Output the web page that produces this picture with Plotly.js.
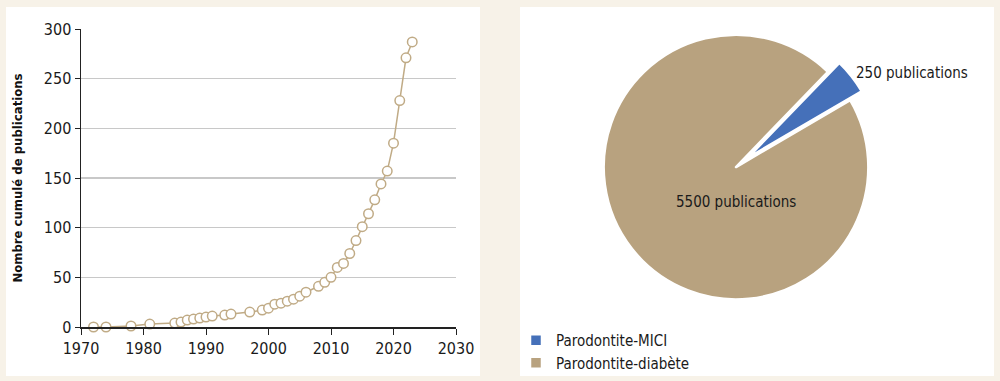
<!DOCTYPE html>
<html>
<head>
<meta charset="utf-8">
<script src="https://cdn.plot.ly/plotly-3.0.1.min.js"></script>
<style>
html,body{margin:0;padding:0;background:#f7f2e8;}
#chart{width:1000px;height:381px;}
.main-svg text{font-stretch:condensed !important;}
</style>
</head>
<body>
<div id="chart"></div>
<script>
// Left panel: cumulative number of publications per year
const years = [1972,1974,1978,1981,1985,1986,1987,1988,1989,1990,1991,1993,1994,1997,1999,2000,2001,2002,2003,2004,2005,2006,2008,2009,2010,2011,2012,2013,2014,2015,2016,2017,2018,2019,2020,2021,2022,2023];
const cumulative = [0,0,1,3,4,5,7,8,9,10,11,12,13,15,17,19,23,24,26,28,31,35,41,45,50,60,64,74,87,101,114,128,144,157,185,228,271,287];
const xTicks = [1970,1980,1990,2000,2010,2020,2030];
const yTicks = [0,50,100,150,200,250,300];
const yTitle = "Nombre cumulé de publications";

// Right panel: pie
const pieLabels = ["Parodontite-MICI","Parodontite-diabète"];
const pieValues = [250,5500];
const pieTexts = ["250 publications","5500 publications"];

const FONT = "'DejaVu Sans Condensed','DejaVu Sans',sans-serif";
const TAN_LINE = "#c0ab86";
const TAN = "#b8a27f";
const BLUE = "#4570b9";

const pieDomainX = [0.589, 0.883];
const pieDomainY = [0.176, 0.947];

const traces = [
  {
    type: "scatter",
    mode: "lines+markers",
    x: years,
    y: cumulative,
    line: {color: TAN_LINE, width: 1.5},
    marker: {symbol: "circle", size: 9.5, color: "#ffffff", line: {color: TAN_LINE, width: 1.5}},
    cliponaxis: false,
    showlegend: false,
    hoverinfo: "x+y"
  },
  {
    type: "pie",
    labels: pieLabels,
    values: pieValues,
    text: [pieTexts[0], ""],
    textinfo: "text",
    textposition: ["outside","none"],
    sort: false,
    direction: "clockwise",
    rotation: 44,
    pull: [0.11, 0],
    marker: {colors: [BLUE, TAN], line: {color: "#ffffff", width: 2.5}},
    outsidetextfont: {family: FONT, size: 15, color: "#1a1a1a"},
    domain: {x: pieDomainX, y: pieDomainY},
    showlegend: true,
    hoverinfo: "label+value"
  }
];

const layout = {
  width: 1000,
  height: 381,
  margin: {l: 0, r: 0, t: 0, b: 0},
  paper_bgcolor: "#f7f2e8",
  plot_bgcolor: "rgba(0,0,0,0)",
  font: {family: FONT, size: 15, color: "#1a1a1a"},
  shapes: [
    {type: "rect", xref: "paper", yref: "paper", x0: 0.006, x1: 0.480, y0: 1 - 376/381, y1: 1 - 7/381,
     fillcolor: "#ffffff", line: {width: 0}, layer: "below"},
    {type: "rect", xref: "paper", yref: "paper", x0: 0.520, x1: 0.994, y0: 1 - 376/381, y1: 1 - 7/381,
     fillcolor: "#ffffff", line: {width: 0}, layer: "below"}
  ],
  annotations: [
    {xref: "paper", yref: "paper",
     x: (pieDomainX[0] + pieDomainX[1]) / 2, y: (pieDomainY[0] + pieDomainY[1]) / 2 - 0.092,
     text: pieTexts[1], showarrow: false, xanchor: "center", yanchor: "middle",
     font: {family: FONT, size: 15, color: "#1a1a1a"}}
  ],
  xaxis: {
    domain: [0.081, 0.456],
    range: [1970, 2030],
    tickvals: xTicks,
    ticktext: xTicks.map(String),
    ticks: "outside",
    ticklen: 6,
    tickcolor: "#222222",
    showline: true,
    linecolor: "#222222",
    linewidth: 1.5,
    showgrid: false,
    zeroline: false,
    tickfont: {family: FONT, size: 16, color: "#1a1a1a"}
  },
  yaxis: {
    domain: [1 - 327/381, 1 - 29/381],
    range: [0, 300],
    tickvals: yTicks,
    ticktext: yTicks.map(String),
    ticks: "outside",
    ticklen: 5,
    tickcolor: "#222222",
    showline: true,
    linecolor: "#222222",
    linewidth: 1.5,
    showgrid: true,
    gridcolor: "#c8c8c8",
    gridwidth: 1.2,
    zeroline: false,
    tickfont: {family: FONT, size: 16, color: "#1a1a1a"},
    title: {text: yTitle, font: {family: FONT, size: 13, color: "#111111", weight: "bold"}, standoff: 18}
  },
  legend: {
    x: 0.516, y: 1 - 324/381, xanchor: "left", yanchor: "top",
    bgcolor: "rgba(0,0,0,0)",
    font: {family: FONT, size: 15, color: "#1a1a1a"},
    tracegroupgap: 0,
    itemwidth: 30
  }
};

Plotly.newPlot("chart", traces, layout, {displayModeBar: false, staticPlot: true});
</script>
</body>
</html>
